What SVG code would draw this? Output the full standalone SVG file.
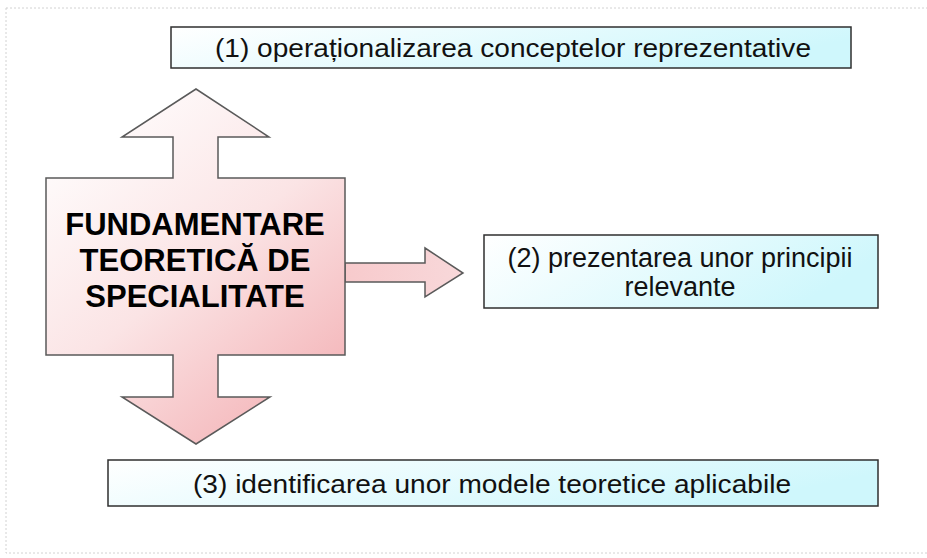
<svg xmlns="http://www.w3.org/2000/svg" width="927" height="558" viewBox="0 0 927 558">
  <style>
    .box { stroke: #2f2f2f; stroke-width: 1.5; fill: url(#cyanGrad); }
    .shape { stroke: #5a5a5a; stroke-width: 1.5; fill: url(#pinkGrad); stroke-linejoin: miter; }
    .lbl { font-family: "Liberation Sans", Arial, sans-serif; fill: #111; text-anchor: middle; }
    .narrow { font-size: 26px; }
    .reg { font-size: 27px; }
    .title { font-family: "Liberation Sans", Arial, sans-serif; font-weight: bold; font-size: 31px; fill: #000; text-anchor: middle; }
    .frame { fill: none; stroke: #d2d2d2; stroke-width: 1; stroke-dasharray: 2 2; }
  </style>
  <defs>
    <linearGradient id="cyanGrad" x1="0" y1="0" x2="1" y2="0.3">
      <stop offset="0" stop-color="#ffffff"/>
      <stop offset="1" stop-color="#cff7fc"/>
    </linearGradient>
    <linearGradient id="pinkGrad" x1="0.15" y1="0" x2="0.85" y2="1">
      <stop offset="0" stop-color="#ffffff"/>
      <stop offset="0.5" stop-color="#fbe4e5"/>
      <stop offset="1" stop-color="#f3b0b4"/>
    </linearGradient>
    <linearGradient id="pinkArrow" x1="0" y1="0" x2="1" y2="0">
      <stop offset="0" stop-color="#f7cacc"/>
      <stop offset="1" stop-color="#f8d8da"/>
    </linearGradient>
  </defs>

  <rect width="927" height="558" fill="#ffffff"/>
  <rect class="frame" x="6" y="8" width="930" height="545"/>

  <g id="connectors">
    <path id="arrow-right" class="shape" style="fill:url(#pinkArrow)" d="M345,263 L425,263 L425,248 L463,273 L425,297 L425,282 L345,282 Z"/>
  </g>

  <g id="node-main">
    <path class="shape" d="M46,178 L173,178 L173,137 L122,137 L196,89 L269,137 L218,137 L218,178 L345,178 L345,355 L218,355 L218,397 L270,397 L196,444 L122,397 L173,397 L173,355 L46,355 Z"/>
    <text class="title" x="195" y="235">FUNDAMENTARE</text>
    <text class="title" x="195" y="271">TEORETICĂ DE</text>
    <text class="title" x="195" y="307">SPECIALITATE</text>
  </g>

  <g id="node-1">
    <rect class="box" x="171" y="27" width="680" height="41"/>
    <text class="lbl narrow" x="513" y="57" textLength="596" lengthAdjust="spacingAndGlyphs">(1) operaționalizarea  conceptelor  reprezentative</text>
  </g>

  <g id="node-2">
    <rect class="box" x="484" y="235" width="394" height="73"/>
    <text class="lbl reg" x="680" y="267">(2) prezentarea  unor principii</text>
    <text class="lbl reg" x="680" y="296">relevante</text>
  </g>

  <g id="node-3">
    <rect class="box" x="108" y="460" width="770" height="46"/>
    <text class="lbl narrow" x="492" y="493" textLength="598" lengthAdjust="spacingAndGlyphs">(3) identificarea  unor modele teoretice aplicabile</text>
  </g>
</svg>
